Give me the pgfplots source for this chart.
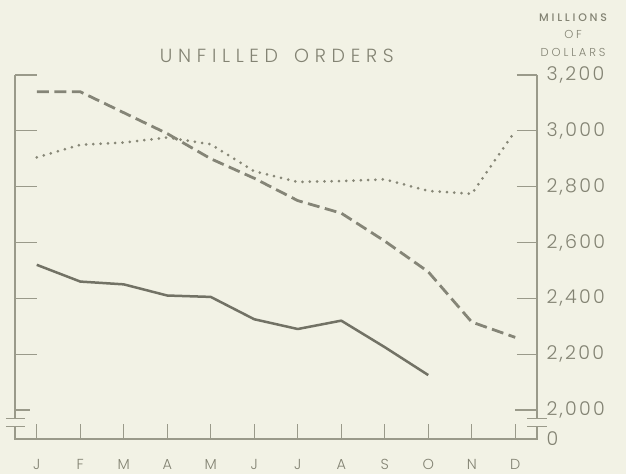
\documentclass[border=0pt]{standalone}
\usepackage{pgfplots}
\pgfplotsset{compat=1.18}
\usepackage{fontspec}
\setmainfont{Poppins}[UprightFont=* Light, BoldFont=* Medium]
\definecolor{bg}{HTML}{F2F2E5}
\definecolor{ink}{HTML}{838373}
\definecolor{framec}{HTML}{9A9A8A}
\definecolor{solidc}{HTML}{727265}
\definecolor{dashc}{HTML}{858577}
\definecolor{dotc}{HTML}{878777}
\begin{document}
\begin{tikzpicture}
\fill[bg] (-15pt,-35pt) rectangle (611pt,439pt);
\useasboundingbox (-15pt,-35pt) rectangle (611pt,439pt);
\begin{axis}[
  scale only axis, width=522pt, height=364pt,
  xmin=-0.5, xmax=11.5, ymin=1896, ymax=3200,
  clip=false,
  axis line style={draw=none},
  tick style={draw=none},
  xtick={0,...,11},
  xticklabels={J,F,M,A,M,J,J,A,S,O,N,D},
  xticklabel style={font=\fontsize{14.5}{14.5}\selectfont, text=ink, anchor=base, inner sep=0pt, text depth=0pt, yshift=-30pt},
  ytick={2000,2200,2400,2600,2800,3000,3200},
  yticklabels={{2,000},{2,200},{2,400},{2,600},{2,800},{3,000},{3,200}},
  extra y ticks={1896},
  extra y tick labels={0},
  extra y tick style={tick style={draw=none}},
  yticklabel pos=right,
  yticklabel style={anchor=west, font=\fontsize{19}{19}\selectfont\addfontfeatures{LetterSpace=12}, text=ink, xshift=6pt},
]
% frame
\draw[framec, line width=1.1pt] (axis cs:-0.5,3200) -- (axis cs:-0.5,1970);
\draw[framec, line width=1.1pt] (axis cs:-0.5,1940) -- (axis cs:-0.5,1896) -- (axis cs:11.5,1896) -- (axis cs:11.5,1940);
\draw[framec, line width=1.1pt] (axis cs:11.5,1970) -- (axis cs:11.5,3200);
% break marks
\pgfplotsinvokeforeach{1970,1940}{
  \draw[framec, line width=1.1pt] (axis cs:-0.71,#1) -- (axis cs:-0.27,#1);
  \draw[framec, line width=1.1pt] (axis cs:11.27,#1) -- (axis cs:11.73,#1);
}
% y ticks
\pgfplotsinvokeforeach{2200,2400,2600,2800,3000,3200}{
  \draw[framec, line width=1.1pt] (axis cs:-0.5,#1) -- (axis cs:0.0,#1);
  \draw[framec, line width=1.1pt] (axis cs:11.04,#1) -- (axis cs:11.5,#1);
}
\draw[framec, line width=1.1pt] (axis cs:-0.5,2000) -- (axis cs:-0.15,2000);
\draw[framec, line width=1.1pt] (axis cs:11.0,2000) -- (axis cs:11.5,2000);
% x ticks
\pgfplotsinvokeforeach{0,...,11}{
  \draw[framec, line width=1.1pt] (axis cs:#1,1896) -- (axis cs:#1,1950);
}
% series
\addplot[solidc, line width=2.5pt, line join=round] coordinates {
 (0,2520) (1,2460) (2,2450) (3,2410) (4,2405) (5,2325) (6,2290) (7,2320) (8,2225) (9,2125)};
\addplot[dashc, line width=2.8pt, dash pattern=on 12pt off 5.5pt] coordinates {
 (0,3140) (1,3140) (2,3065) (3,2990) (4,2900) (5,2830) (6,2750) (7,2705) (8,2605) (9,2495) (10,2315) (11,2260)};
\addplot[dotc, line width=3pt, line cap=round, dash pattern=on 0pt off 7.3pt] coordinates {
 (0,2905) (1,2950) (2,2958) (3,2976) (4,2952) (5,2855) (6,2817) (7,2820) (8,2826) (9,2785) (10,2774) (11,3000)};
% texts
\node[text=ink, font=\fontsize{19}{19}\selectfont\addfontfeatures{LetterSpace=30}] at (axis cs:5.52,3268) {UNFILLED\hspace{16pt}ORDERS};
\node[text=ink, font=\bfseries\fontsize{11}{11}\selectfont\addfontfeatures{LetterSpace=25}] at (axis cs:12.33,3404) {MILLIONS};
\node[text=ink, font=\fontsize{11.5}{11.5}\selectfont\addfontfeatures{LetterSpace=25}] at (axis cs:12.33,3346) {OF};
\node[text=ink, font=\fontsize{11.5}{11.5}\selectfont\addfontfeatures{LetterSpace=25}] at (axis cs:12.33,3279) {DOLLARS};
\end{axis}
\end{tikzpicture}
\end{document}
